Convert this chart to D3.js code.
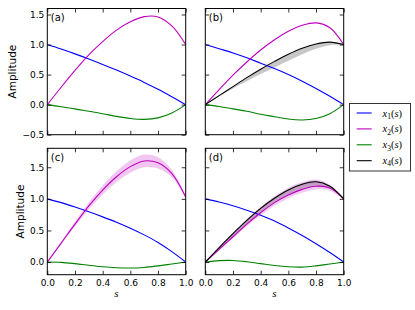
<!DOCTYPE html>
<html>
<head>
<meta charset="utf-8">
<script src="https://cdn.jsdelivr.net/npm/d3@7"></script>
<style>
  body { margin: 0; background: #fff; }
  text { font-family: "DejaVu Sans", sans-serif; }
</style>
</head>
<body>
<script>
// s grid shared by every curve
var sVals = [0, 0.1, 0.2, 0.3, 0.4, 0.5, 0.6, 0.7, 0.8, 0.9, 1.0];

// panel (a)
var aX1 = [1.0, 0.925, 0.845, 0.76, 0.67, 0.575, 0.475, 0.37, 0.255, 0.13, 0.0];
var aX2 = [0.0, 0.29, 0.57, 0.83, 1.05, 1.24, 1.38, 1.465, 1.46, 1.31, 1.0];
var aX3 = [0.0, -0.035, -0.07, -0.11, -0.15, -0.195, -0.23, -0.245, -0.22, -0.14, 0.0];

// panel (b)
var bX1 = [1.0, 0.93, 0.86, 0.78, 0.69, 0.6, 0.5, 0.39, 0.27, 0.14, 0.0];
var bX2 = [0.0, 0.25, 0.49, 0.71, 0.91, 1.08, 1.22, 1.32, 1.36, 1.28, 1.0];
var bX3 = [0.0, -0.03, -0.07, -0.11, -0.16, -0.2, -0.24, -0.255, -0.23, -0.15, 0.0];
var bX4 = [0.0, 0.15, 0.3, 0.45, 0.59, 0.72, 0.84, 0.94, 1.01, 1.04, 1.0];
var bX4Low = [0.0, 0.14, 0.27, 0.39, 0.51, 0.62, 0.73, 0.84, 0.93, 0.99, 1.0];

// panel (c)
var cX1 = [1.0, 0.94, 0.87, 0.795, 0.715, 0.63, 0.535, 0.43, 0.31, 0.165, 0.0];
var cX2 = [0.0, 0.3, 0.6, 0.89, 1.14, 1.35, 1.51, 1.6, 1.57, 1.4, 1.03];
var cX3 = [0.0, -0.005, -0.025, -0.05, -0.075, -0.09, -0.095, -0.085, -0.06, -0.03, 0.0];
var cX2Spread = [0.0, 0.02, 0.04, 0.055, 0.07, 0.085, 0.095, 0.1, 0.09, 0.06, 0.02];

// panel (d)
var dX1 = [1.0, 0.95, 0.89, 0.82, 0.74, 0.65, 0.54, 0.42, 0.29, 0.15, 0.0];
var dX2 = [0.0, 0.2, 0.4, 0.6, 0.78, 0.94, 1.06, 1.15, 1.2, 1.17, 1.0];
var dX3 = [0.0, 0.022, 0.025, 0.005, -0.025, -0.055, -0.075, -0.08, -0.06, -0.03, 0.0];
var dX4 = [0.0, 0.23, 0.45, 0.66, 0.85, 1.01, 1.14, 1.23, 1.27, 1.2, 1.0];
var dX2Spread = [0.0, 0.015, 0.025, 0.035, 0.045, 0.05, 0.055, 0.055, 0.05, 0.04, 0.015];
var dX4Spread = [0.0, 0.01, 0.015, 0.02, 0.025, 0.03, 0.035, 0.035, 0.035, 0.025, 0.01];

// ticks and labels
var xTicks = [0, 0.2, 0.4, 0.6, 0.8, 1.0];
var yTicksTop = [-0.5, 0, 0.5, 1.0, 1.5];
var yTicksBottom = [0, 0.5, 1.0, 1.5];
var legendNums = ["1", "2", "3", "4"];
var panelNames = ["(a)", "(b)", "(c)", "(d)"];

var colBlue = "#0000ff", colMag = "#bf00bf", colGreen = "#008000", colBlack = "#000000";

var svg = d3.select("body").append("svg")
    .attr("width", 415).attr("height", 310)
    .style("background", "#fff");

var cols = [{x0: 47.3, x1: 185.7}, {x0: 205.3, x1: 343.7}];
var rows = [{y0: 8.5, y1: 134.7, dom: [-0.5, 1.6], ticks: yTicksTop},
            {y0: 148.3, y1: 274.7, dom: [-0.2, 1.8], ticks: yTicksBottom}];

function zipS(vals) {
  return sVals.map(function(s, i) { return {s: s, v: vals[i]}; });
}

function drawPanel(row, col, idx, lines, bands) {
  var R = rows[row], C = cols[col];
  var x = d3.scaleLinear().domain([0, 1]).range([C.x0, C.x1]);
  var y = d3.scaleLinear().domain(R.dom).range([R.y1, R.y0]);
  var g = svg.append("g");

  var clipId = "clip" + idx;
  svg.append("clipPath").attr("id", clipId).append("rect")
      .attr("x", C.x0).attr("y", R.y0)
      .attr("width", C.x1 - C.x0).attr("height", R.y1 - R.y0);
  var plot = g.append("g").attr("clip-path", "url(#" + clipId + ")");

  bands.forEach(function(b) {
    var area = d3.area()
        .x(function(d, i) { return x(sVals[i]); })
        .y0(function(d, i) { return y(b.lo[i]); })
        .y1(function(d, i) { return y(b.hi[i]); })
        .curve(d3.curveCatmullRom);
    plot.append("path")
        .datum(sVals)
        .attr("fill", b.color)
        .attr("fill-opacity", b.opacity)
        .attr("stroke", "none")
        .attr("d", area);
  });

  var line = d3.line()
      .x(function(d) { return x(d.s); })
      .y(function(d) { return y(d.v); })
      .curve(d3.curveCatmullRom);

  lines.forEach(function(l) {
    plot.append("path")
        .datum(zipS(l.vals))
        .attr("fill", "none")
        .attr("stroke", l.color)
        .attr("stroke-width", 1.1)
        .attr("stroke-linejoin", "round")
        .attr("d", line);
  });

  // inward ticks on all four sides
  var left = g.append("g").attr("transform", "translate(" + C.x0 + ",0)")
      .call(d3.axisLeft(y).tickValues(R.ticks).tickSizeInner(-4).tickSizeOuter(0).tickPadding(3)
        .tickFormat(col === 0 ? d3.format(".1f") : ""));
  var right = g.append("g").attr("transform", "translate(" + C.x1 + ",0)")
      .call(d3.axisRight(y).tickValues(R.ticks).tickSizeInner(-4).tickSizeOuter(0).tickFormat(""));
  var bottom = g.append("g").attr("transform", "translate(0," + R.y1 + ")")
      .call(d3.axisBottom(x).tickValues(xTicks).tickSizeInner(-4).tickSizeOuter(0).tickPadding(4.5)
        .tickFormat(row === 1 ? d3.format(".1f") : ""));
  var top = g.append("g").attr("transform", "translate(0," + R.y0 + ")")
      .call(d3.axisTop(x).tickValues(xTicks).tickSizeInner(-4).tickSizeOuter(0).tickFormat(""));

  [left, right, bottom, top].forEach(function(a) {
    a.select(".domain").remove();
    a.selectAll(".tick line").attr("stroke", "#000").attr("stroke-width", 0.8);
    a.selectAll(".tick text")
        .attr("fill", "#000")
        .style("font-family", "'DejaVu Sans', sans-serif")
        .style("font-size", "9px");
  });

  g.append("rect")
      .attr("x", C.x0).attr("y", R.y0)
      .attr("width", C.x1 - C.x0).attr("height", R.y1 - R.y0)
      .attr("fill", "none").attr("stroke", "#000").attr("stroke-width", 1);

  g.append("text")
      .attr("x", C.x0 + 3.5).attr("y", R.y0 + 12.3)
      .style("font-size", "10px")
      .text(panelNames[idx]);

  if (col === 0) {
    var cx = row === 0 ? 13.7 : 21.2;
    g.append("text")
        .attr("transform", "translate(" + cx + "," + ((R.y0 + R.y1) / 2) + ") rotate(-90)")
        .attr("dy", "0.25em")
        .attr("text-anchor", "middle")
        .style("font-size", "10.5px")
        .text("Amplitude");
  }
  if (row === 1) {
    g.append("text")
        .attr("x", (C.x0 + C.x1) / 2).attr("y", 297)
        .attr("text-anchor", "middle")
        .style("font-family", "'Liberation Serif', serif")
        .style("font-style", "italic")
        .style("font-size", "11px")
        .text("s");
  }
}

drawPanel(0, 0, 0,
  [{vals: aX1, color: colBlue}, {vals: aX2, color: colMag}, {vals: aX3, color: colGreen}], []);

drawPanel(0, 1, 1,
  [{vals: bX1, color: colBlue}, {vals: bX2, color: colMag}, {vals: bX3, color: colGreen}, {vals: bX4, color: colBlack}],
  [{lo: bX4Low, hi: bX4, color: "#999999", opacity: 0.55}]);

drawPanel(1, 0, 2,
  [{vals: cX1, color: colBlue}, {vals: cX2, color: colMag}, {vals: cX3, color: colGreen}],
  [{lo: cX2.map(function(v, i) { return v - cX2Spread[i]; }),
    hi: cX2.map(function(v, i) { return v + cX2Spread[i]; }), color: colMag, opacity: 0.22}]);

drawPanel(1, 1, 3,
  [{vals: dX1, color: colBlue}, {vals: dX2, color: colMag}, {vals: dX3, color: colGreen}, {vals: dX4, color: colBlack}],
  [{lo: dX2.map(function(v, i) { return v - dX2Spread[i]; }),
    hi: dX4.map(function(v, i) { return v + dX4Spread[i]; }), color: colMag, opacity: 0.2},
   {lo: dX2, hi: dX4.map(function(v, i) { return v + dX4Spread[i] * 0.5; }), color: "#704870", opacity: 0.35}]);

// legend
var legColors = [colBlue, colMag, colGreen, colBlack];
var leg = svg.append("g");
leg.append("rect")
    .attr("x", 349.5).attr("y", 103.5).attr("width", 61).attr("height", 67.5)
    .attr("fill", "#fff").attr("stroke", "#333").attr("stroke-width", 1);
legendNums.forEach(function(n, i) {
  var ly = 113 + i * 15.9;
  leg.append("line")
      .attr("x1", 356.7).attr("x2", 371.7).attr("y1", ly).attr("y2", ly)
      .attr("stroke", legColors[i]).attr("stroke-width", 1.1);
  var t = leg.append("text")
      .attr("x", 382.5).attr("y", ly + 3.5)
      .style("font-family", "'Liberation Serif', serif")
      .style("font-size", "10.5px");
  t.append("tspan").style("font-style", "italic").text("x");
  t.append("tspan").attr("dy", 2.2).style("font-size", "7.5px").text(n);
  t.append("tspan").attr("dy", -2.2).text("(");
  t.append("tspan").style("font-style", "italic").text("s");
  t.append("tspan").text(")");
});
</script>
</body>
</html>
